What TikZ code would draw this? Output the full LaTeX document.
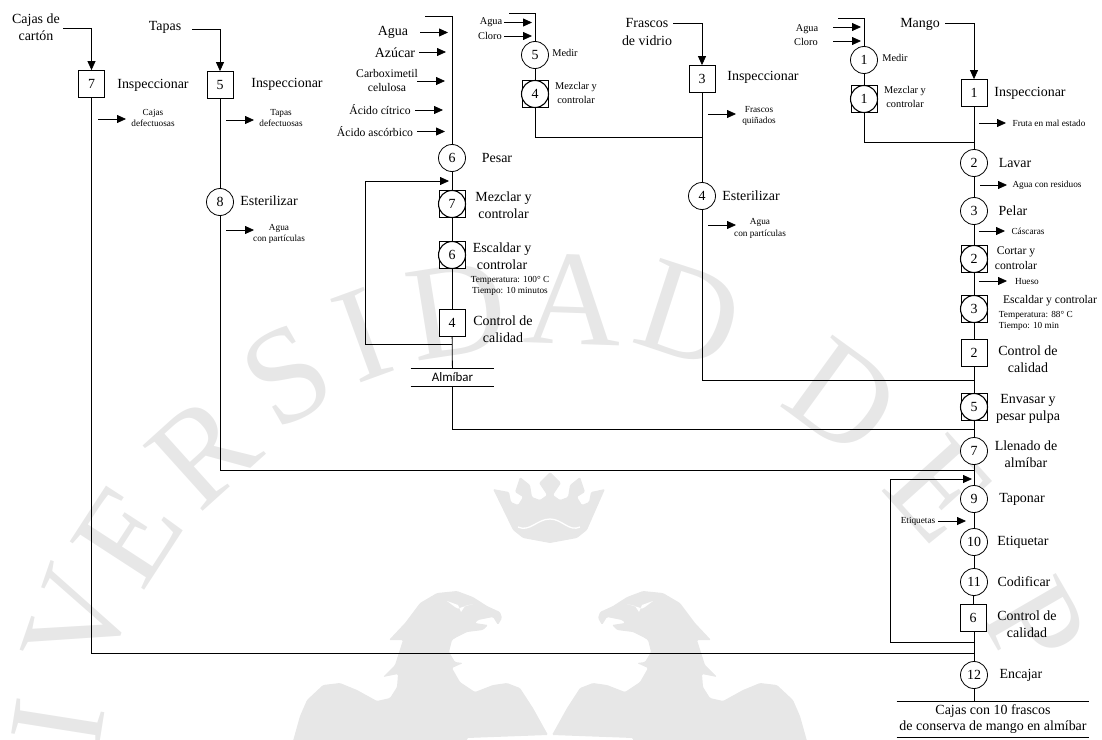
\documentclass[tikz,border=0pt]{standalone}
\usepackage{fontspec}
\setmainfont{Liberation Serif}
\newfontfamily\almfont{Carlito}
\usetikzlibrary{arrows.meta}
\definecolor{wmgray}{HTML}{E7E7E7}
\tikzset{
	wmark/.style={text=wmgray,inner sep=0,font=\fontsize{136}{136}\selectfont},
	wmfill/.style={fill=wmgray,draw=none,rounded corners=1.2bp},
	procbox/.style={draw,fill=white,minimum width=26bp,minimum height=27bp,inner sep=0,font=\fontsize{14}{14}\selectfont},
	proccirc/.style={draw,fill=white,circle,minimum size=27bp,inner sep=0,font=\fontsize{14}{14}\selectfont},
	ctrlcirc/.style={proccirc,line width=1.1bp},
	flow/.style={-{Triangle[length=9bp,width=8bp]}},
	labL/.style={align=center,inner sep=0,font=\fontsize{14}{17.5}\selectfont},
	labM/.style={align=center,inner sep=0,font=\fontsize{11.7}{15}\selectfont},
	labS/.style={align=center,inner sep=0,font=\fontsize{10.4}{13.5}\selectfont},
	labT/.style={align=center,inner sep=0,font=\fontsize{9.3}{11.5}\selectfont},
}
\def\eaglepath{(293,741)--(300,716)--(307,700)--(323,685)--(340,683)--(357,690)--(377,701)--(390,698)--(397,687)--(398,674)--(383,677)--(395,665)--(403,640)--(389,640)--(405,623)--(420,603)--(437,593)--(457,591)--(473,597)--(487,606)--(500,612)--(502,618)--(498,625)--(493,617)--(478,620)--(475,623)--(488,625)--(483,630)--(467,632)--(457,637)--(452,640)--(449,652)--(455,662)--(463,663)--(452,668)--(460,682)--(475,692)--(493,685)--(507,683)--(520,688)--(533,708)--(548,735)--(467,738)--(467,741)--cycle}
\def\eaglebrow{(447,601)--(458,605)--(461,612)--(465,606)--(473,604)--(461,607.5)--(458,608.5)--(455,607)--cycle}
\begin{document}
\begin{tikzpicture}[x=1bp,y=-1bp,line width=0.8bp]
\useasboundingbox (0,0) rectangle (1102,740);
% watermark
\begin{scope}
	\clip (0,0) rectangle (1102,740);
	\foreach \n/\x/\y/\r/\t in {1/58/723/81/I,2/78/620/71/V,3/128/535/57/E,4/203/451/42/R,5/287/375/30/S,6/363/335/20/I,7/457/310/9/D,8/573/300/-2/A,9/690/315/-18/D,10/843/397/-36/D,11/940/490/-48/E,12/1035/625/-60/P}
		\node[wmark,rotate=\r] (wm\n) at (\x,\y) {\t};
	\fill[wmfill] \eaglepath;
	\fill[white] \eaglebrow;
	\begin{scope}[shift={(1100,0)},xscale=-1]
		\fill[wmfill] \eaglepath;
		\fill[white] \eaglebrow;
	\end{scope}
	\fill[wmfill] (493,489)--(509,492)--(511,502)--(518,505)--(523,497)--(515,492)--(520,477)--(530,485)--(532,497)--(540,500)--(547,495)--(539,483)--(550,472)--(561,483)--(553,495)--(560,500)--(568,497)--(570,485)--(580,477)--(585,492)--(577,497)--(582,505)--(589,502)--(591,492)--(605,489)--(587,530)--(577,538)--(550,543)--(523,538)--(513,530)--cycle;
	\draw[white,line width=1.3bp] (518,527) to [out=-25,in=180] (550,519) to [out=0,in=-155] (580,527);
\end{scope}

% boxes and circles
\foreach \n/\x/\y/\t in {a1/91.5/84/7,b1/220/85/5,e1/702/79/3,c4/452/323/4,m1/974/93/1,m6/974/353/2,m12/973/618/6}
	\node[procbox] (\n) at (\x,\y) {\t};
\foreach \n/\x/\y/\t in {b2/220/202/8,c1/452/158/6,d1/535/55/5,e2/702/196/4,f1/864/60/1,m2/974/163/2,m3/974/211/3,m8/974/451/7,m9/974/499/9,m10/974/542/10,m11/974/582/11,m13/974/675/12}
	\node[proccirc] (\n) at (\x,\y) {\t};
\foreach \n/\x/\y/\t in {c2/452/204/7,c3/452/255/6,d2/535/94/4,f2/864/99/1,m4/974/259/2,m5/974/309/3,m7/974/407/5}
{
	\node[procbox] (\n) at (\x,\y) {};
	\node[ctrlcirc] (\n c) at (\n) {\t};
}
\node[labL,font=\fontsize{14}{16}\selectfont,minimum width=192bp,minimum height=35bp] (cajas) at (993,719.5) {Cajas con 10 frascos\\ de conserva de mango en almíbar};
\node[inner sep=0,minimum width=83bp,minimum height=17.5bp,font=\almfont\fontsize{13}{13}\selectfont] (alm) at (452.5,377.5) {Almíbar};

% named free ends
\foreach \n/\x/\y in {cajasin/63/28,tapasin/192/29,frascin/673/23.5,mangoin/945/23,ctop/425/16,dtop/509/13.5,ftop/838/18.5,jA/974/653,jB/974/470,jC/974/429,jE/974/380.5,jD/702/137.5,jF/974/142.5,cfb/452/344,fbA/365.5/344,fbB/365.5/181,fbC/449/181,mfb/974/642,fbD/890.7/642,fbE/890.7/479,fbF/972/479,endm/974/702}
	\coordinate (\n) at (\x,\y);

\draw[flow] (cajasin) -| (a1);
\draw[flow] (tapasin) -| (b1);
\draw[flow] (frascin) -| (e1);
\draw[flow] (mangoin) -| (m1);
\draw (ctop) -| (c1);
\draw (dtop) -| (d1);
\draw (ftop) -| (f1);
\draw (a1) |- (jA);
\draw (b1) -- (b2);
\draw (b2) |- (jB);
\draw (e1) -- (e2);
\draw (e2) |- (jE);
\draw (d1) -- (d2);
\draw (d2) |- (jD);
\draw (f1) -- (f2);
\draw (f2) |- (jF);
\foreach \p/\q in {c1/c2,c2/c3,c3/c4,c4/alm,m1/m2,m2/m3,m3/m4,m4/m5,m5/m6,m6/m7,m7/m8,m8/m9,m9/m10,m10/m11,m11/m12,m13/endm}
	\draw (\p) -- (\q);
\draw (m12.south -| m11) -- (m13);
\draw (alm) |- (jC);
\draw (alm.north west) -- (alm.north east);
\draw (alm.south west) -- (alm.south east);
\draw (cajas.north west) -- (cajas.north east);
\draw (cajas.south west) -- (cajas.south east);
\draw[flow] (cfb) -- (fbA) -- (fbB) -- (fbC);
\draw[flow] (mfb) -- (fbD) -- (fbE) -- (fbF);

% side arrows
\foreach \n/\xa/\xb/\y in {1/98/126/119,2/226/254/120,3/226/254/230,4/420/448/32.5,5/419/446/52,6/417/445/81,7/415/443/110,8/417/445/131.5,9/504/532/22.5,10/504/532/36,11/708/736/114,12/708/736/225,13/833/861/27,14/833/861/41,15/979/1006/123,16/980/1007/185,17/979/1005/231,18/979/1007/281,19/938/966/521}
{
	\coordinate (s\n) at (\xa,\y);
	\coordinate (t\n) at (\xb,\y);
	\draw[flow] (s\n) -- (t\n);
}

% labels
\foreach \n/\x/\y/\t in {1/36/27/{Cajas de\\cartón},2/165/27/Tapas,3/153/85/Inspeccionar,4/287/84/Inspeccionar,5/269/201/Esterilizar,6/393/32/Agua,7/395/53/Azúcar,8/497/158/Pesar,9/503.5/205/{Mezclar y\\controlar},10/502/256.5/{Escaldar y\\controlar},11/503/329.5/{Control de\\calidad},12/647/32/{Frascos\\de vidrio},13/763/77/Inspeccionar,14/751/196/Esterilizar,15/920/24/Mango,16/1030/93/Inspeccionar,17/1015/163/Lavar,18/1013/211/Pelar,19/1028/359/{Control de\\calidad},20/1028/409/{Envasar y\\pesar pulpa},21/1026/454/{Llenado de\\almíbar},22/1022/499/Taponar,23/1023/542/Etiquetar,24/1024/582/Codificar,25/1027/624/{Control de\\calidad},26/1021/675/Encajar}
	\node[labL] (lbL\n) at (\x,\y) {\t};
\foreach \n/\x/\y/\t in {1/387/80.5/{Carboximetil\\celulosa},2/380/110/Ácido cítrico,3/375/132/Ácido ascórbico,4/1016/258.5/{Cortar y\\controlar},5/1050/301/Escaldar y controlar}
	\node[labM] (lbM\n) at (\x,\y) {\t};
\foreach \n/\x/\y/\t in {1/491/22.5/Agua,2/490/36/Cloro,3/565/53/Medir,4/576/93/{Mezclar y\\controlar},5/807/29/Agua,6/806/42/Cloro,7/895/58/Medir,8/905/97/{Mezclar y\\controlar}}
	\node[labS] (lbS\n) at (\x,\y) {\t};
\foreach \n/\x/\y/\t in {1/153/118/{Cajas\\defectuosas},2/281/118/{Tapas\\defectuosas},3/279/234/{Agua\\con partículas},4/510/286/{Temperatura: 100° C\\Tiempo: 10 minutos},5/759/116/{Frascos\\quiñados},6/760/228.5/{Agua\\con partículas},7/1049/123/Fruta en mal estado,8/1047/185/Agua con residuos,9/1028/231/Cáscaras,10/1027/282/Hueso,11/918/521/Etiquetas}
	\node[labT] (lbT\n) at (\x,\y) {\t};
\node[labT,align=left,anchor=west] (lbT12) at (998.5,321) {Temperatura: 88° C\\Tiempo: 10 min};
\end{tikzpicture}
\end{document}
